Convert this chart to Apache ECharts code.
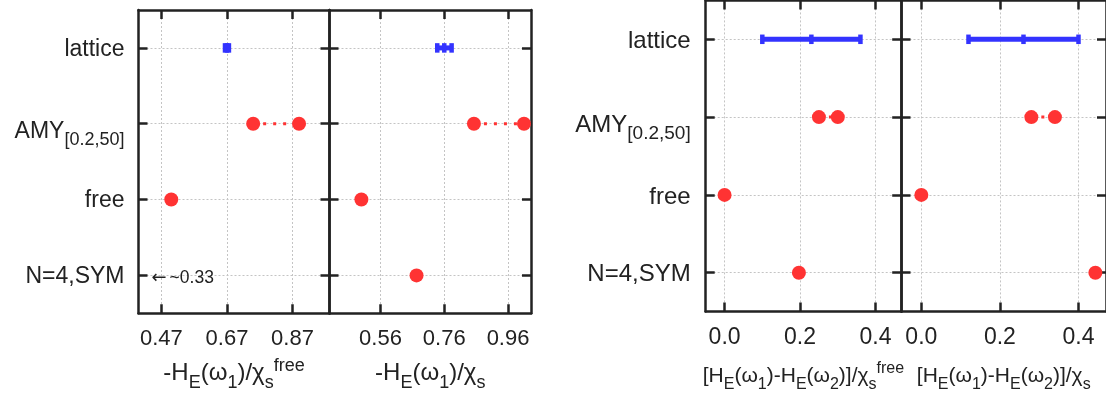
<!DOCTYPE html>
<html><head><meta charset="utf-8">
<script src="https://cdn.jsdelivr.net/npm/echarts@6/dist/echarts.min.js"></script>
<style>html,body{margin:0;padding:0;background:#fff}#c{width:1106px;height:400px}</style>
</head><body><div id="c"></div>
<script>
// ---- data ----
const rows = ['lattice', 'AMY_[0.2,50]', 'free', 'N=4,SYM'];
// one entry per panel: [-H(w1)/chi_free, -H(w1)/chi_s, diff/chi_free, diff/chi_s]
const latticeLow  = [0.664, 0.738, 0.10, 0.12];
const latticeMid  = [0.670, 0.760, 0.23, 0.26];
const latticeHigh = [0.676, 0.783, 0.36, 0.40];
const amyLow  = [0.75, 0.853, 0.25, 0.28];
const amyHigh = [0.89, 1.010, 0.30, 0.34];
const freeVal = [0.50, 0.50, 0.0, 0.0];
const symVal  = [0.33, 0.673, 0.197, 0.443];
const axisMin = [0.4, 0.4, -0.05, -0.0505];
const axisMax = [0.983, 1.032, 0.468, 0.47];
const tickVals = [[0.47, 0.67, 0.87], [0.56, 0.76, 0.96], [0.0, 0.2, 0.4], [0.0, 0.2, 0.4]];
const tickDecimals = [2, 2, 1, 1];
const titles = [
  '{m|-H}{s|E}{m|(ω}{s|1}{m|)/χ}{s|s}{p|free}',
  '{m|-H}{s|E}{m|(ω}{s|1}{m|)/χ}{s|s}',
  '{m|[H}{s|E}{m|(ω}{s|1}{m|)-H}{s|E}{m|(ω}{s|2}{m|)]/χ}{s|s}{p|free}',
  '{m|[H}{s|E}{m|(ω}{s|1}{m|)-H}{s|E}{m|(ω}{s|2}{m|)]/χ}{s|s}'
];

// ---- layout ----
const FONT = '"Liberation Sans", Arial, Helvetica, sans-serif';
const INK = '#222';
const RED = '#ff3333';
const BLUE = '#3333ff';
const GRIDC = '#c4c4c4';
const boxes = [
  {left: 138.5, top: 10, width: 191, height: 303.3},
  {left: 329.5, top: 10, width: 201.5, height: 303.3},
  {left: 705.7, top: 0.4, width: 195.5, height: 311.2},
  {left: 901.5, top: 0.4, width: 206.5, height: 311.2}
];
const tickFont = [22, 22, 23, 23];
const nameGaps = [41, 41, 49, 49];
const labFont = [23, 23, 24, 24];
const subFont = [18, 18, 19, 19];
const titleRich = [
  {m: [24, 26, 6], s: [18, 18, 19], p: [18, 18, 2]},
  {m: [24, 26, 6], s: [18, 18, 19], p: [18, 18, 2]},
  {m: [21, 22, 5], s: [16, 16, 16], p: [16, 16, 0]},
  {m: [21, 22, 5], s: [16, 16, 16], p: [16, 16, 0]}
];

const grids = [], xAxes = [], yAxes = [], series = [];
function lineCommon() { return {color: INK, width: 2.5}; }
function richTok(a) {
  return {fontSize: a[0], lineHeight: a[1], padding: [a[2], 0, 0, 0], verticalAlign: 'top', color: INK, fontFamily: FONT};
}

boxes.forEach((b, i) => {
  grids.push(Object.assign({containLabel: false}, b));
  const tv = tickVals[i];
  const base = () => ({
    gridIndex: i, type: 'value', min: axisMin[i], max: axisMax[i], z: 2,
    axisLine: {show: true, onZero: false, lineStyle: lineCommon()},
    axisTick: {show: true, inside: true, length: 9, customValues: tv, lineStyle: lineCommon()},
    splitLine: {show: false}
  });
  const tr = titleRich[i];
  xAxes.push(Object.assign(base(), {
    position: 'bottom',
    axisLabel: {show: true, customValues: tv, margin: 15, fontSize: tickFont[i], color: INK, fontFamily: FONT,
      formatter: v => Number(v).toFixed(tickDecimals[i])},
    name: titles[i], nameLocation: 'middle', nameGap: nameGaps[i],
    nameTextStyle: {color: INK, fontFamily: FONT, rich: {m: richTok(tr.m), s: richTok(tr.s), p: richTok(tr.p)}}
  }));
  xAxes.push(Object.assign(base(), {position: 'top', axisLabel: {show: false}}));
  const ybase = () => ({
    gridIndex: i, type: 'category', data: rows, inverse: true, boundaryGap: true, z: 2,
    axisLine: {show: true, onZero: false, lineStyle: lineCommon()},
    axisTick: {show: true, inside: true, alignWithLabel: true, length: 9, lineStyle: lineCommon()},
    splitLine: {show: false}
  });
  yAxes.push(Object.assign(ybase(), {
    position: 'left',
    axisLabel: {
      show: i === 0 || i === 2, margin: i === 0 ? 14 : 15,
      formatter: v => {
        const k = v.indexOf('_');
        return k < 0 ? '{m|' + v + '}' : '{a|' + v.slice(0, k) + '}{s|' + v.slice(k + 1) + '}';
      },
      rich: {
        m: richTok([labFont[i], 26, 3]),
        a: richTok([labFont[i], 26, 9]),
        s: richTok([subFont[i], 20, 20])
      }
    }
  }));
  yAxes.push(Object.assign(ybase(), {position: 'right', axisLabel: {show: false}}));

  const xi = 2 * i, yi = 2 * i;
  // dotted grid lines
  series.push({
    type: 'line', xAxisIndex: xi, yAxisIndex: yi, data: [], z: 1, silent: true,
    markLine: {
      silent: true, symbol: 'none', animation: false, label: {show: false}, z: 1,
      lineStyle: {color: GRIDC, width: 1, type: [2, 2]},
      emphasis: {disabled: true},
      data: rows.map(r => ({yAxis: r})).concat(tv.map(t => ({xAxis: t})))
    }
  });
  // AMY range connector
  series.push({
    type: 'line', xAxisIndex: xi, yAxisIndex: yi, z: 3, silent: true, symbol: 'none',
    data: [[amyLow[i], rows[1]], [amyHigh[i], rows[1]]],
    lineStyle: {color: RED, width: 3, type: [3, 7]}
  });
  // points
  const pts = [[amyLow[i], rows[1]], [amyHigh[i], rows[1]], [freeVal[i], rows[2]], [symVal[i], rows[3]]]
    .filter(p => p[0] >= axisMin[i] && p[0] <= axisMax[i]);
  series.push({
    type: 'scatter', xAxisIndex: xi, yAxisIndex: yi, z: 4, silent: true,
    symbol: 'circle', symbolSize: 14, itemStyle: {color: RED, opacity: 1},
    data: pts, clip: false
  });
  // lattice error bar
  series.push({
    type: 'custom', xAxisIndex: xi, yAxisIndex: yi, z: 5, silent: true,
    data: [[latticeLow[i], latticeMid[i], latticeHigh[i], 0]],
    encode: {x: [0, 1, 2], y: 3},
    renderItem: (params, api) => {
      const lo = api.coord([api.value(0), api.value(3)]);
      const mi = api.coord([api.value(1), api.value(3)]);
      const hi = api.coord([api.value(2), api.value(3)]);
      const st = {fill: BLUE};
      const capW = 4.5, capH = 9.5, barH = 5;
      return {type: 'group', children: [
        {type: 'rect', shape: {x: lo[0], y: lo[1] - barH / 2, width: hi[0] - lo[0], height: barH}, style: st},
        {type: 'rect', shape: {x: lo[0] - capW / 2, y: lo[1] - capH / 2, width: capW, height: capH}, style: st},
        {type: 'rect', shape: {x: mi[0] - capW / 2, y: mi[1] - capH / 2, width: capW, height: capH}, style: st},
        {type: 'rect', shape: {x: hi[0] - capW / 2, y: hi[1] - capH / 2, width: capW, height: capH}, style: st}
      ]};
    }
  });
  // off-scale annotation
  if (symVal[i] < axisMin[i]) {
    const mn = axisMin[i];
    series.push({
      type: 'custom', xAxisIndex: xi, yAxisIndex: yi, z: 6, silent: true,
      data: [[symVal[i], 3]], encode: {x: 0, y: 1},
      renderItem: (params, api) => {
        const p = api.coord([mn, api.value(1)]);
        return {type: 'text', x: p[0] + 13, y: p[1] + 3, style: {
          text: '{a|←}{t|~' + api.value(0).toFixed(2) + '}',
          rich: {
            a: {fontSize: 18, fontFamily: '"DejaVu Sans", sans-serif', fill: INK, padding: [0, 3, 0, 0]},
            t: {fontSize: 17.5, fontFamily: FONT, fill: INK}
          },
          fill: INK, fontSize: 17, fontFamily: FONT, align: 'left', verticalAlign: 'middle'}};
      }
    });
  }
});

const chart = echarts.init(document.getElementById('c'), null, {renderer: 'canvas'});
chart.setOption({
  animation: false,
  backgroundColor: '#fff',
  textStyle: {fontFamily: FONT},
  grid: grids, xAxis: xAxes, yAxis: yAxes, series: series
});
</script></body></html>
